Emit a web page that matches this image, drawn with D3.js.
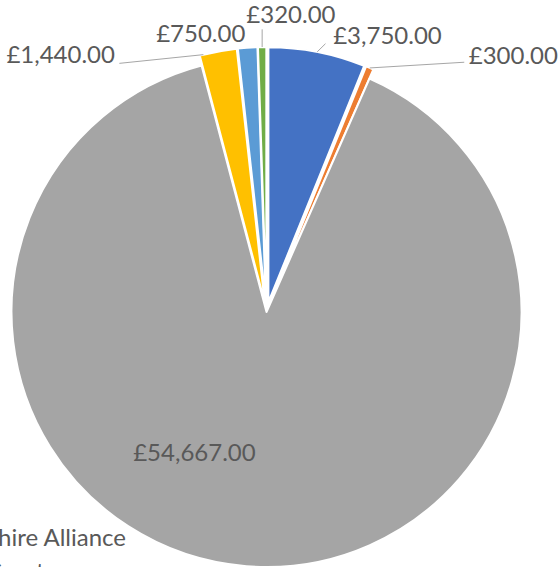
<!DOCTYPE html>
<html>
<head>
<meta charset="utf-8">
<script src="https://cdn.jsdelivr.net/npm/d3@7"></script>
<style>
	body { margin: 0; background: #fff; }
	svg { display: block; }
</style>
</head>
<body>
<div id="container"></div>
<script>
const values = [3750, 300, 54667, 1440, 750, 320];
const colors = ["#4472C4", "#ED7D31", "#A5A5A5", "#FFC000", "#5B9BD5", "#70AD47"];
const legendLabels = ["Wiltshire Alliance", "Grants"];

// where each label sits relative to its slice (t = point along the outer edge)
const labelLayout = [
	{ t: 0.5, dx: 16, dy: -7.5, anchor: "start", leader: [8.3, -8.2] },
	{ t: 0.5, dx: 99, dy: -4.4, anchor: "start", leader: [94.5, -5.7] },
	{ inside: true, dx: -62, dy: 22, anchor: "middle", leader: null },
	{ t: 0.1, dx: -88.4, dy: 8.2, anchor: "end", leader: [-84, 8.7] },
	{ t: 0.5, dx: -2.3, dy: -5.7, anchor: "end", leader: null },
	{ t: 0.5, dx: 28.8, dy: -24.5, anchor: "middle", leader: [0, -17.7] },
];

window.addEventListener("load", () => drawChart());

function drawChart() {
	const width = 558;
	const height = 567;
	const cx = 266.5;
	const cy = 312;
	const radius = 255;
	const explode = 10;
	const bigIndex = values.indexOf(d3.max(values));

	const fmt = (v) => "£" + d3.format(",.2f")(v);

	const svg = d3
		.select("#container")
		.append("svg")
		.attr("width", width)
		.attr("height", height);

	const pie = d3.pie().sort(null).value((d) => d);
	const arcs = pie(values);
	const arc = d3.arc().innerRadius(0).outerRadius(radius);

	function offsetOf(d, i) {
		if (i === bigIndex) return [0, 0];
		const m = (d.startAngle + d.endAngle) / 2;
		return [explode * Math.sin(m), -explode * Math.cos(m)];
	}

	function edgePoint(d, i, t) {
		const [ox, oy] = offsetOf(d, i);
		const a = d.startAngle + (d.endAngle - d.startAngle) * t;
		return [cx + ox + radius * Math.sin(a), cy + oy - radius * Math.cos(a)];
	}

	const g = svg.append("g").attr("class", "slices");

	g.selectAll("path")
		.data(arcs)
		.enter()
		.append("path")
		.attr("d", arc)
		.attr("transform", (d, i) => {
			const [ox, oy] = offsetOf(d, i);
			return `translate(${cx + ox}, ${cy + oy})`;
		})
		.attr("fill", (d, i) => colors[i])
		.attr("stroke", "#fff")
		.attr("stroke-width", 2)
		.attr("stroke-linejoin", "round");

	const labels = svg.append("g").attr("class", "labels");

	arcs.forEach((d, i) => {
		const lay = labelLayout[i];
		let p;
		if (lay.inside) {
			const c = arc.centroid(d);
			p = [cx + c[0], cy + c[1]];
		} else {
			p = edgePoint(d, i, lay.t);
		}

		if (lay.leader) {
			labels
				.append("line")
				.attr("x1", p[0])
				.attr("y1", p[1])
				.attr("x2", p[0] + lay.leader[0])
				.attr("y2", p[1] + lay.leader[1])
				.attr("stroke", "#A6A6A6")
				.attr("stroke-width", 1);
		}

		labels
			.append("text")
			.attr("x", p[0] + lay.dx)
			.attr("y", p[1] + lay.dy)
			.attr("text-anchor", lay.anchor)
			.attr("font-family", "Lato, sans-serif")
			.attr("font-size", 24)
			.attr("fill", "#595959")
			.text(fmt(values[i]));
	});

	// legend, mostly cut off at the bottom left
	const legendX = d3.scaleOrdinal().domain(legendLabels).range([126, 55]);
	const legendY = d3.scalePoint().domain(legendLabels).range([546, 580]);

	svg.append("g")
		.attr("class", "legend")
		.selectAll("text")
		.data(legendLabels)
		.enter()
		.append("text")
		.attr("x", (d) => legendX(d))
		.attr("y", (d) => legendY(d))
		.attr("text-anchor", "end")
		.attr("font-family", "Lato, sans-serif")
		.attr("font-size", 24)
		.attr("fill", "#595959")
		.text((d) => d);
}
</script>
</body>
</html>
